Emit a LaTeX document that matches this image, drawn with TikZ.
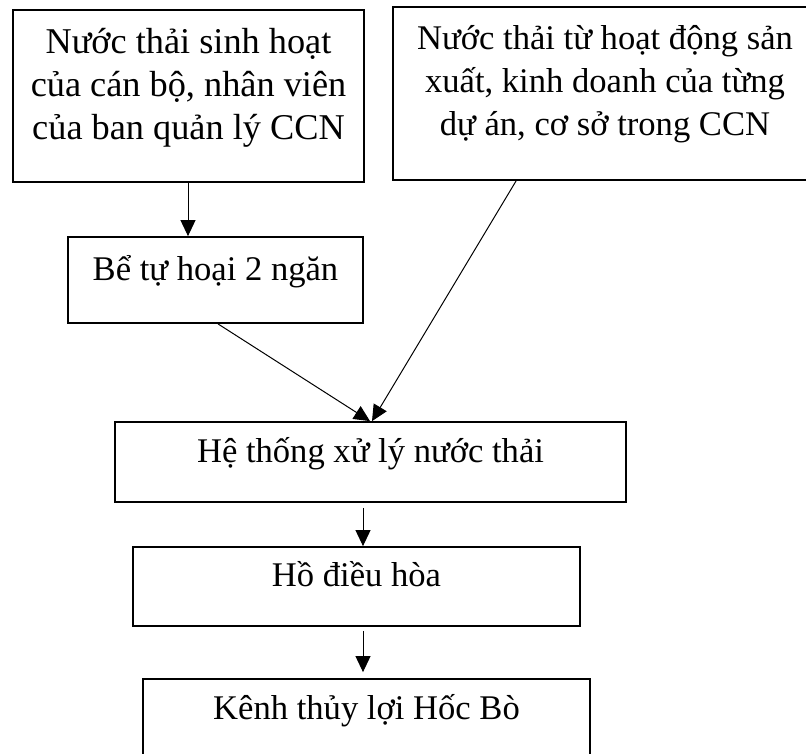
\documentclass[tikz,border=0pt]{standalone}
\usepackage{fontspec}
\setmainfont{Liberation Serif}
\usepackage{tikz}
\usetikzlibrary{arrows.meta}
\usetikzlibrary{calc}

\begin{document}
\begin{tikzpicture}[x=1pt,y=-1pt,
  hop/.style={draw, line width=1.8pt, inner sep=0pt,
              font=\fontsize{34.6}{43}\selectfont},
  motdong/.style={hop, text height=0.62em, text depth=0.62em},
  muiten/.style={line width=1pt, -{Triangle[length=16pt,width=15pt]}}]

  \clip (0,0) rectangle (806,754);

  %% Draw Sources
  \node[hop, font=\fontsize{36.3}{43}\selectfont, minimum width=351pt, minimum height=172pt] (sinhhoat) at (188.5,96)
       {\raisebox{8pt}[\height][\depth]{\begin{tabular}{@{}c@{}}Nước thải sinh hoạt\\của cán bộ, nhân viên\\của ban quản lý CCN\end{tabular}}};
  \node[hop, minimum width=424pt, minimum height=173pt] (sanxuat) at (605,93.5)
       {\raisebox{10pt}[\height][\depth]{\begin{tabular}{@{}c@{}}Nước thải từ hoạt động sản\\xuất, kinh doanh của từng\\dự án, cơ sở trong CCN\end{tabular}}};

  %% Draw Treatment
  \node[motdong, minimum width=295pt, minimum height=86pt] (bethoai) at (215.5,280)
       {Bể tự hoại 2 ngăn};
  \node[motdong, minimum width=511pt, minimum height=80pt] (hethong) at (370.5,462)
       {Hệ thống xử lý nước thải};
  \node[motdong, minimum width=447pt, minimum height=79pt] (hodieuhoa) at (356.5,586.5)
       {Hồ điều hòa};
  \node[motdong, minimum width=447pt, minimum height=80pt] (kenh) at (366.5,719)
       {Kênh thủy lợi Hốc Bò};

  %% Draw Flows
  \draw[muiten] ([xshift=-0.5pt]sinhhoat.south) -- ([xshift=-0.5pt]sinhhoat.south |- bethoai.north);
  \draw[muiten] ([xshift=2.5pt]bethoai.south) -- ([xshift=-0.5pt]hethong.north);
  \draw[muiten] ([xshift=124pt]sanxuat.south west) -- ([xshift=1.5pt]hethong.north);
  \draw[muiten] ([xshift=-7.5pt,yshift=-5pt]hethong.south) -- ([xshift=-7.5pt]hethong.south |- hodieuhoa.north);
  \draw[muiten] ([xshift=6.5pt,yshift=-4pt]hodieuhoa.south) -- ([xshift=6.5pt,yshift=6pt]hodieuhoa.south |- kenh.north);

\end{tikzpicture}
\end{document}
